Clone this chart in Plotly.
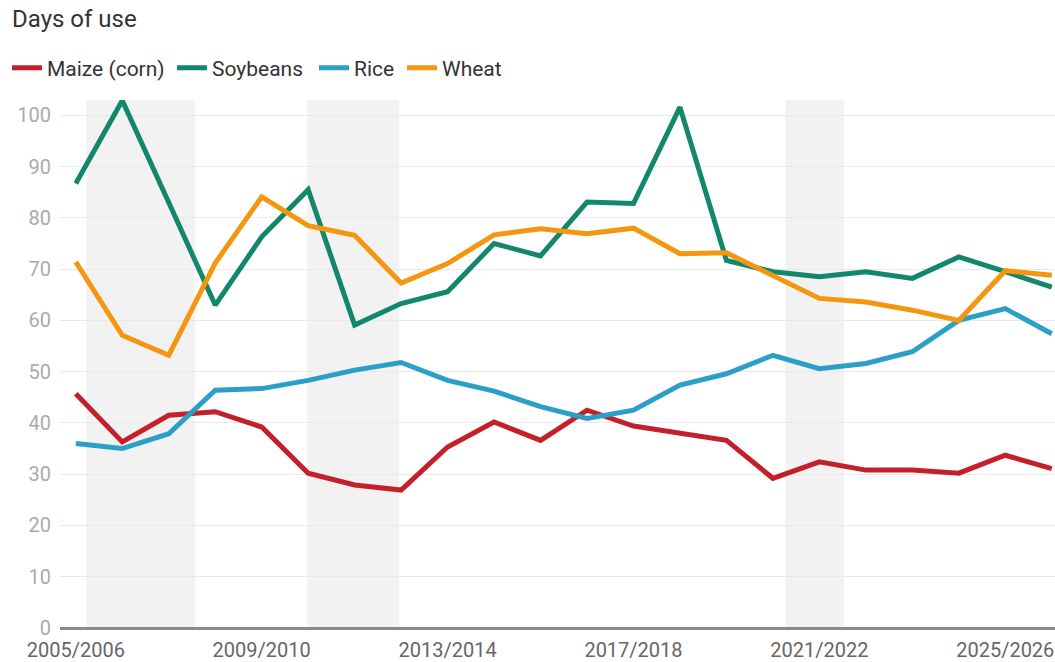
import plotly.graph_objects as go

# Marketing seasons (22 seasons, 2005/2006 .. 2026/2027)
seasons = [f"{y}/{y + 1}" for y in range(2005, 2027)]
tick_labels = ["2005/2006", "2009/2010", "2013/2014", "2017/2018", "2021/2022", "2025/2026"]

maize = [45.7, 36.3, 41.5, 42.2, 39.2, 30.2, 27.9, 26.9, 35.3, 40.2, 36.6,
         42.5, 39.4, 37.9, 36.6, 29.2, 32.4, 30.8, 30.8, 30.2, 33.7, 31.1]
soybeans = [86.7, 102.9, 83.0, 63.0, 76.3, 85.5, 59.1, 63.3, 65.6, 75.0, 72.6,
            83.1, 82.8, 101.6, 71.7, 69.5, 68.5, 69.5, 68.2, 72.4, 69.5, 66.5]
rice = [36.0, 35.0, 37.9, 46.4, 46.7, 48.3, 50.3, 51.8, 48.3, 46.2, 43.2,
        40.9, 42.5, 47.4, 49.6, 53.2, 50.6, 51.6, 53.9, 60.0, 62.3, 57.4]
wheat = [71.4, 57.1, 53.2, 71.2, 84.1, 78.5, 76.6, 67.3, 71.1, 76.7, 77.9,
         76.9, 78.0, 73.0, 73.2, 68.8, 64.3, 63.6, 62.0, 60.0, 69.7, 68.8]

# Highlighted periods, as positions along the season axis
band_starts = [0.23, 4.98, 15.27]
band_ends = [2.56, 6.96, 16.53]

series = [
    ("Maize (corn)", maize, "#c3202b"),
    ("Soybeans", soybeans, "#12876b"),
    ("Rice", rice, "#2c9fc7"),
    ("Wheat", wheat, "#f4960f"),
]

# Left edge (px) of each legend entry along the top row
legend_x_px = [7, 172, 314, 402]

W, H = 1055, 662
fig = go.Figure()
legend_ids = ["legend", "legend2", "legend3", "legend4"]
for (name, values, color), lid in zip(series, legend_ids):
    fig.add_trace(go.Scatter(
        x=seasons, y=values, name=name, mode="lines",
        line=dict(color=color, width=5), legend=lid,
    ))

for x0, x1 in zip(band_starts, band_ends):
    fig.add_shape(type="rect", xref="x", yref="paper", x0=x0, x1=x1, y0=0, y1=1,
                  fillcolor="#f2f2f2", line=dict(width=0), layer="below")

legend_style = dict(orientation="h", xref="container", xanchor="left",
                    y=1 - 68 / H, yref="container", yanchor="middle",
                    font=dict(size=21, color="#333333"), itemwidth=30,
                    bgcolor="rgba(0,0,0,0)")
legends = {lid: dict(legend_style, x=px / W) for lid, px in zip(legend_ids, legend_x_px)}

fig.update_layout(
    width=W, height=H,
    margin=dict(l=60, r=0, t=100, b=34),
    paper_bgcolor="white", plot_bgcolor="white",
    font=dict(family="Roboto, sans-serif", color="#333333"),
    title=dict(text="Days of use", x=12 / W, xref="container", xanchor="left",
               y=1 - 19 / H, yref="container", yanchor="middle",
               font=dict(size=24, color="#333333")),
    showlegend=True,
    **legends,
)

fig.update_xaxes(
    type="category", range=[-0.34, 21.07],
    tickmode="array", tickvals=tick_labels, ticktext=tick_labels,
    showgrid=False, showline=False, zeroline=False, ticks="",
    tickfont=dict(size=20, color="#666666"), ticklabelstandoff=8,
)
fig.update_yaxes(
    range=[0, 103], tickmode="array", tickvals=list(range(0, 101, 10)),
    showgrid=True, gridcolor="#e9e9e9", gridwidth=1,
    zeroline=True, zerolinecolor="#8a8a8a", zerolinewidth=3,
    tickfont=dict(size=20, color="#aaaaaa"), ticklabelstandoff=8,
)

fig.write_html("out.html")
